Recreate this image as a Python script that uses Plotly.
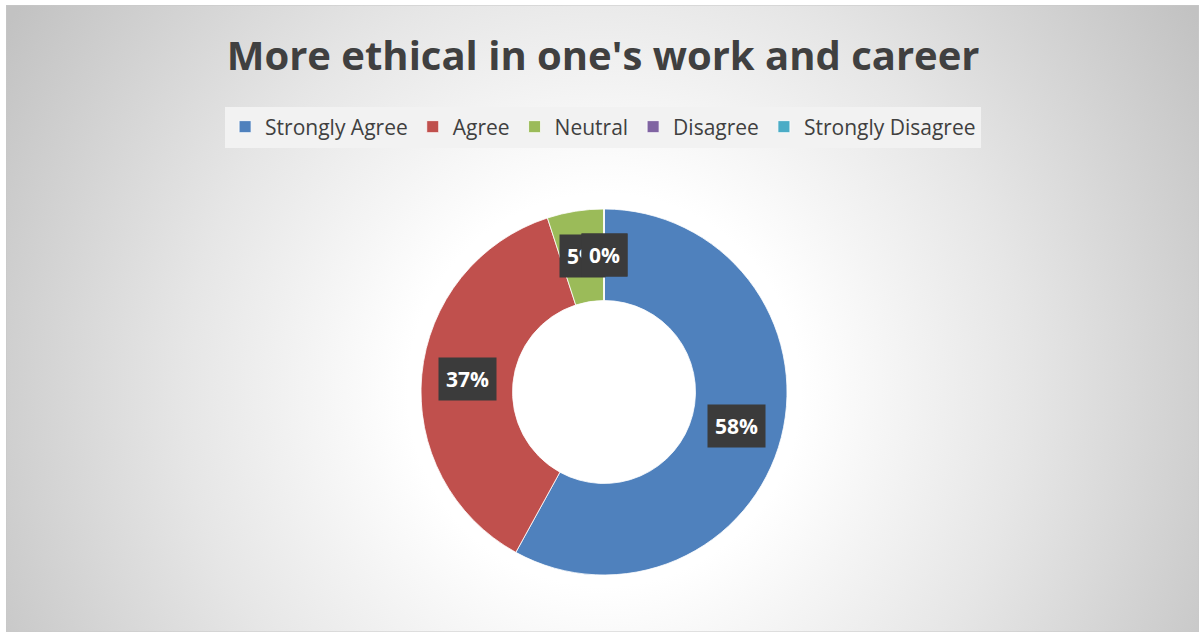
import base64
import math
import plotly.graph_objects as go

categories = ["Strongly Agree", "Agree", "Neutral", "Disagree", "Strongly Disagree"]
values = [58, 37, 5, 0, 0]
colors = ["#4f81bd", "#c0504d", "#9bbb59", "#8064a2", "#4bacc6"]
title_text = "More ethical in one's work and career"

W, H = 1199, 632
# pie geometry (pixels)
CX, CY, R_OUT = 604, 392, 183
HOLE = 0.5

# radial gradient background as svg
AW, AH = 1193, 627
svg = f'''<svg xmlns="http://www.w3.org/2000/svg" width="{AW}" height="{AH}" viewBox="0 0 {AW} {AH}" preserveAspectRatio="none">
<defs><radialGradient id="g" gradientUnits="userSpaceOnUse" cx="598" cy="385" r="700">
<stop offset="0" stop-color="#ffffff"/><stop offset="0.28" stop-color="#ffffff"/>
<stop offset="0.6" stop-color="#e6e6e6"/><stop offset="1" stop-color="#c2c2c2"/></radialGradient></defs>
<rect x="0" y="0" width="{AW}" height="{AH}" fill="url(#g)" stroke="#c8c8c8" stroke-width="1"/></svg>'''
src = "data:image/svg+xml;base64," + base64.b64encode(svg.encode()).decode()

fig = go.Figure()
fig.add_trace(go.Pie(
    labels=categories, values=values, hole=HOLE, sort=False,
    direction="clockwise", rotation=0,
    marker=dict(colors=colors, line=dict(color="white", width=0.8)),
    textinfo="none", hoverinfo="label+percent",
    domain=dict(x=[(CX - R_OUT) / W, (CX + R_OUT) / W],
                y=[1 - (CY + R_OUT) / H, 1 - (CY - R_OUT) / H]),
))

# data labels placed at mid-angle of each slice
total = sum(values)
r_mid = R_OUT * (1 + HOLE) / 2
cum = 0
annotations = []
for cat, v in zip(categories, values):
    frac_mid = (cum + v / 2) / total
    cum += v
    ang = 2 * math.pi * frac_mid
    px = CX + r_mid * math.sin(ang)
    py = CY - r_mid * math.cos(ang)
    annotations.append(dict(
        x=px / W, y=1 - py / H, xref="paper", yref="paper",
        text=f"<b>{round(100 * v / total)}%</b>", showarrow=False,
        font=dict(family="Open Sans", size=21, color="white"),
        bgcolor="#3b3b3b", borderpad=7, xanchor="center", yanchor="middle",
    ))

fig.update_layout(
    width=W, height=H,
    margin=dict(l=0, r=0, t=0, b=0),
    paper_bgcolor="white", plot_bgcolor="white",
    images=[dict(source=src, xref="paper", yref="paper", x=6 / W, y=1 - 5 / H,
                 sizex=AW / W, sizey=AH / H, sizing="stretch", layer="below",
                 xanchor="left", yanchor="top")],
    title=dict(text=f"<b>{title_text}</b>", x=0.503, xanchor="center",
               y=1 - 56 / H, yanchor="middle", yref="container",
               font=dict(family="Open Sans", size=40, color="#404040")),
    legend=dict(orientation="h", x=0.503, xanchor="center", y=1 - 127 / H,
                yanchor="middle", bgcolor="#f2f2f2",
                font=dict(family="Open Sans", size=21, color="#404040"),
                itemclick=False, traceorder="normal"),
    annotations=annotations,
    showlegend=True,
)

fig.write_html("out.html")
